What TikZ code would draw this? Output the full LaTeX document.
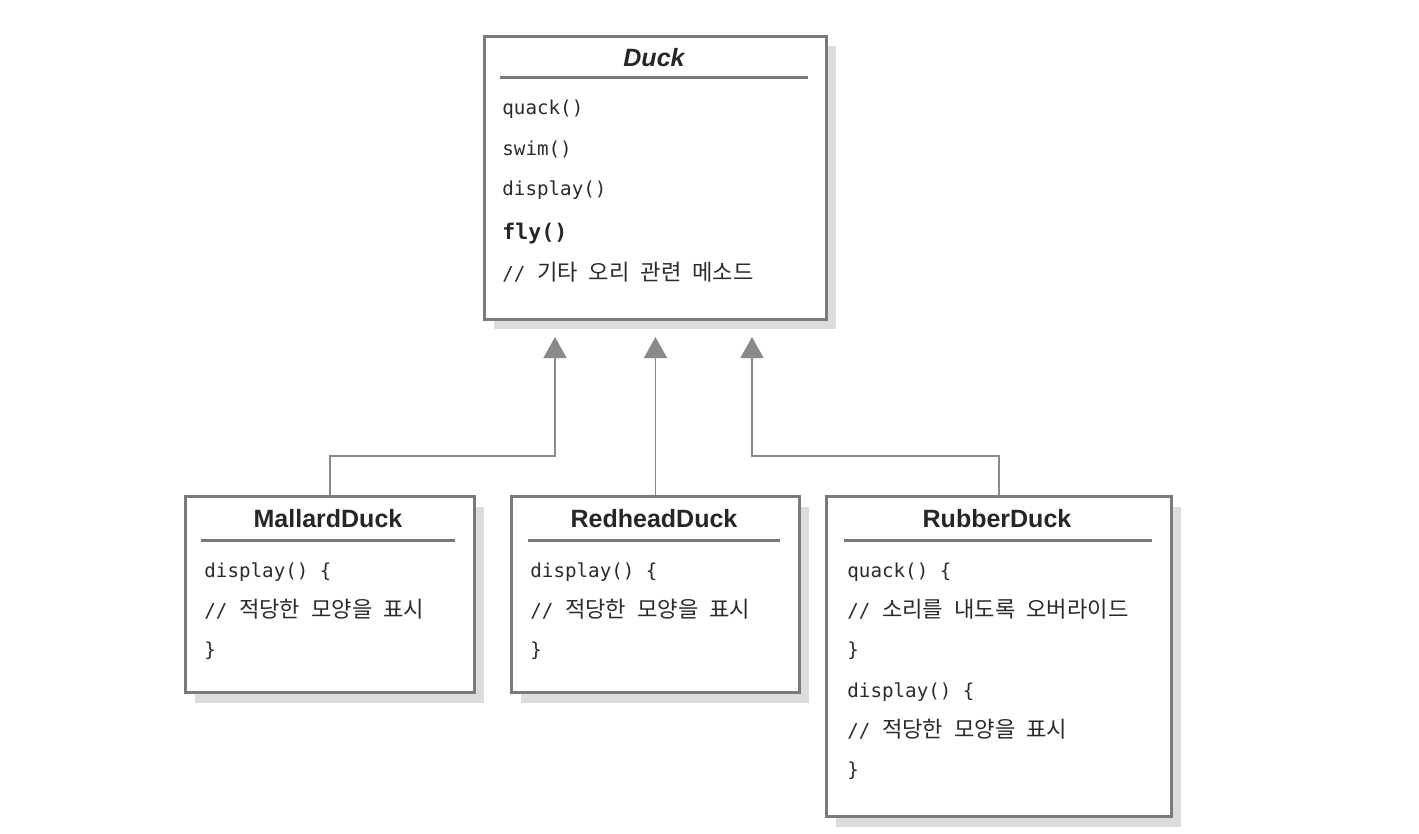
\documentclass[tikz,border=0pt]{standalone}
\usepackage{fontspec}
\setmainfont{Liberation Sans}
\newfontfamily\mono{DejaVu Sans Mono}
\newfontfamily\kr[WordSpace=2.2]{Noto Sans CJK KR}
\usetikzlibrary{arrows.meta,shadows}
\definecolor{bordergray}{HTML}{7A7A7A}
\definecolor{shadowgray}{HTML}{DCDCDC}
\definecolor{conngray}{HTML}{8A8A8A}
\definecolor{txt}{HTML}{2B2B2B}
\definecolor{ttl}{HTML}{262626}
\tikzset{
  classbox/.style={draw=bordergray, line width=1.5pt, fill=white, anchor=north west, inner sep=0pt,
    copy shadow={shadow xshift=4.5pt, shadow yshift=-5pt, fill=shadowgray, draw=none}},
  sepline/.style={draw=bordergray, line width=1.5pt},
  title/.style={anchor=base, font=\fontsize{12.5}{14}\selectfont\bfseries, text=ttl, inner sep=0pt},
  member/.style={anchor=base west, font=\fontsize{9.6}{11}\selectfont\mono, text=txt, inner sep=0pt},
  conn/.style={draw=conngray, line width=0.9pt},
  inherit/.style={conn, -{Triangle[width=11.5pt,length=10.5pt]}}
}
\newcommand{\krtext}[1]{{\fontsize{11.1}{12}\selectfont\kr #1}}
\begin{document}
\begin{tikzpicture}[x=0.5pt,y=-0.5pt]
\useasboundingbox (0,0) rectangle (1419,834);
% boxes
\node[classbox, minimum width=171pt, minimum height=141.5pt] (duck) at (483,35) {};
\node[classbox, minimum width=144.5pt, minimum height=98pt] (mallard) at (184,495) {};
\node[classbox, minimum width=144pt, minimum height=98pt] (redhead) at (510,495) {};
\node[classbox, minimum width=172.5pt, minimum height=160pt] (rubber) at (825,495) {};
% separators
\draw[sepline] (500,78) -- (808,78);
\draw[sepline] (201,540) -- (455,540);
\draw[sepline] (528,540) -- (780,540);
\draw[sepline] (844,540) -- (1152,540);
% Duck
\node[title] (duckT) at (654,67) {\itshape Duck};
\node[member] (d1) at (502,115) {quack()};
\node[member] (d2) at (502,156) {swim()};
\node[member] (d3) at (502,196) {display()};
\node[member, font=\fontsize{10.8}{12}\selectfont\mono\bfseries, text=ttl] (d4) at (502,240) {fly()};
\node[member] (d5) at (502,281) {// \krtext{기타 오리 관련 메소드}};
% MallardDuck
\node[title] (malT) at (328,527) {MallardDuck};
\node[member] (m1) at (204,577) {display() \{};
\node[member] (m2) at (204,617) {// \krtext{적당한 모양을 표시}};
\node[member] (m3) at (204,656) {\}};
% RedheadDuck
\node[title] (redT) at (654,527) {RedheadDuck};
\node[member] (r1) at (530,577) {display() \{};
\node[member] (r2) at (530,617) {// \krtext{적당한 모양을 표시}};
\node[member] (r3) at (530,656) {\}};
% RubberDuck
\node[title] (rubT) at (997,527) {RubberDuck};
\node[member] (u1) at (847,577) {quack() \{};
\node[member] (u2) at (847,617) {// \krtext{소리를 내도록 오버라이드}};
\node[member] (u3) at (847,656) {\}};
\node[member] (u4) at (847,697) {display() \{};
\node[member] (u5) at (847,737) {// \krtext{적당한 모양을 표시}};
\node[member] (u6) at (847,776) {\}};
% connectors
\coordinate (j1) at (555,456);
\coordinate (t1) at (555,337);
\coordinate (t2) at (redhead.north |- t1);
\coordinate (j3) at (752,456);
\coordinate (t3) at (752,337);
\draw[inherit] (mallard.north) |- (j1) -- (t1);
\draw[inherit] (redhead.north) -- (t2);
\draw[inherit] (rubber.north) |- (j3) -- (t3);
\end{tikzpicture}
\end{document}
